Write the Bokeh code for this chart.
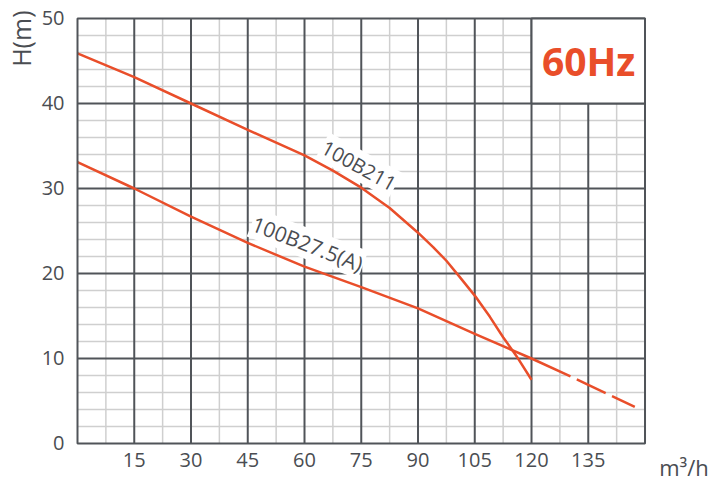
from bokeh.plotting import figure
from bokeh.models import FixedTicker, Label, Title, Range1d
from bokeh.core.properties import value
from bokeh.embed import file_html
from bokeh.resources import INLINE

# ---- data ----
q_211 = [0, 15, 30, 45, 60, 67.5, 75, 82.5, 90, 94, 97.5, 101, 105, 109, 112.5, 116, 120]
h_211 = [45.9, 43.1, 40.0, 36.9, 33.9, 32.1, 30.1, 27.7, 24.8, 23.1, 21.5, 19.6, 17.4, 14.9, 12.5, 10.3, 7.5]

q_275 = [0, 15, 30, 45, 60, 75, 90, 105, 120, 130.3]
h_275 = [33.1, 30.0, 26.7, 23.6, 20.8, 18.4, 15.9, 12.9, 10.0, 7.9]

q_275_tail = [130.3, 135, 147.3]
h_275_tail = [7.9, 6.9, 4.3]

x_ticks = [15, 30, 45, 60, 75, 90, 105, 120, 135]
x_tick_labels = ["15", "30", "45", "60", "75", "90", "105", "120", "135"]
x_minor = [7.5, 22.5, 37.5, 52.5, 67.5, 82.5, 97.5, 112.5, 127.5, 142.5]
y_ticks = [0, 10, 20, 30, 40, 50]
y_minor = [v for v in range(0, 51, 2)]

x_min, x_max = 0, 150
y_min, y_max = 0, 50

freq_box = dict(left=[120], right=[150], bottom=[40], top=[50])

ORANGE = "#e94e2a"
DARK = "#505459"
TXT = "#4a4d52"
FONT = "Open Sans"

# frame extends to the canvas edges so that the unit label below/right of the grid is drawable
p = figure(width=715, height=478,
           x_range=Range1d(-0.529, 168.63), y_range=Range1d(-4.118, 50.235),
           output_backend="svg", toolbar_location=None, x_axis_location=None,
           min_border_left=75, min_border_right=0,
           min_border_top=16, min_border_bottom=0)

p.background_fill_color = "white"
p.border_fill_color = "white"
p.outline_line_color = None
p.grid.visible = False

p.yaxis.ticker = FixedTicker(ticks=y_ticks)
p.yaxis.axis_line_color = None
p.yaxis.major_tick_line_color = None
p.yaxis.minor_tick_line_color = None
p.yaxis.major_label_text_font = FONT
p.yaxis.major_label_text_font_size = "20px"
p.yaxis.major_label_text_color = TXT
p.yaxis.major_label_standoff = 5

# grid drawn from the tick arrays
h_minor = [t for t in y_minor if t % 10 != 0]
h_major = [t for t in y_ticks if y_min < t < y_max]
p.segment(x0=x_minor, y0=[y_min] * len(x_minor), x1=x_minor, y1=[y_max] * len(x_minor),
          line_color="#cfcfcf", line_width=1.5, level="image")
p.segment(x0=[x_min] * len(h_minor), y0=h_minor, x1=[x_max] * len(h_minor), y1=h_minor,
          line_color="#cfcfcf", line_width=1.5, level="image")
p.segment(x0=x_ticks, y0=[y_min] * len(x_ticks), x1=x_ticks, y1=[y_max] * len(x_ticks),
          line_color=DARK, line_width=2, level="image")
p.segment(x0=[x_min] * len(h_major), y0=h_major, x1=[x_max] * len(h_major), y1=h_major,
          line_color=DARK, line_width=2, level="image")

# x tick labels
p.text(x=x_ticks, y=[-2.0] * len(x_ticks), text=x_tick_labels,
       text_font=value(FONT), text_font_size="20px", text_color=TXT,
       text_align="center", text_baseline="middle")

# curve labels with white background, drawn above grid but under the curves
p.add_layout(Label(x=74.4, y=32.7, text="100B211", angle=-29, angle_units="deg",
                   text_align="center", text_baseline="middle", text_font=FONT,
                   text_font_size="20px", text_color=TXT,
                   background_fill_color="white", padding=1, level="underlay"))
p.add_layout(Label(x=60.8, y=23.5, text="100B27.5(A)", angle=-21, angle_units="deg",
                   text_align="center", text_baseline="middle", text_font=FONT,
                   text_font_size="21px", text_color=TXT,
                   background_fill_color="white", padding=1, level="underlay"))

p.line(q_211, h_211, line_color=ORANGE, line_width=2.5)
p.line(q_275, h_275, line_color=ORANGE, line_width=2.5)
p.line(q_275_tail, h_275_tail, line_color=ORANGE, line_width=2.5,
       line_dash="32 7", line_dash_offset=32)

# plot border and the frequency box
p.quad(left=[x_min], right=[x_max], bottom=[y_min], top=[y_max],
       fill_color=None, line_color=DARK, line_width=2)
p.quad(fill_color="white", line_color=DARK, line_width=2, **freq_box)

p.add_layout(Label(x=135.1, y=45.0, text="60Hz", text_align="center",
                   text_baseline="middle", text_font=FONT, text_font_style="bold",
                   text_font_size="39px", text_color=ORANGE))

# axis titles
p.add_layout(Title(text="H(m)", align="right", standoff=2, offset=-6, text_font=FONT,
                   text_font_size="25px", text_font_style="normal",
                   text_color=TXT), "left")
p.add_layout(Label(x=160.3, y=-2.75, text="m³/h", text_align="center",
                   text_baseline="middle", text_font=FONT,
                   text_font_size="22px", text_color=TXT))

open("out.html", "w").write(file_html(p, INLINE))
